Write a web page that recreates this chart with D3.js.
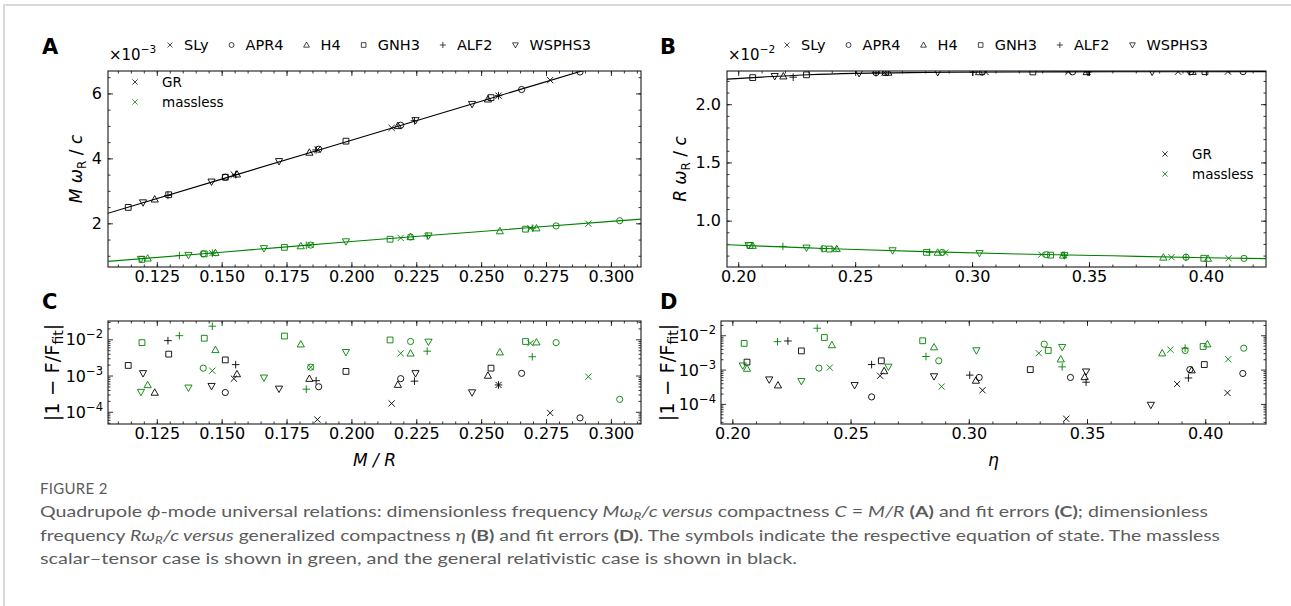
<!DOCTYPE html>
<html>
<head>
<meta charset="utf-8">
<script src="https://cdn.jsdelivr.net/npm/d3@7"></script>
<style>
  body { margin: 0; background: #fff; }
  svg text { font-family: "DejaVu Sans", sans-serif; fill: #000; }
  svg .cap { font-family: "Lato", "Open Sans", sans-serif; fill: #5c5c5c; }
</style>
</head>
<body>
<svg id="fig" width="1291" height="606"></svg>
<script>
// equations of state and their symbols
const eosNames = ["SLy", "APR4", "H4", "GNH3", "ALF2", "WSPHS3"];
const eosSymbols = ["x", "o", "^", "s", "+", "v"];

// GR stars, one inner list per EOS (same order as eosNames)
const grCompact = [
  [0.1547, 0.1869, 0.2155, 0.2567, 0.2766],
  [0.1514, 0.1874, 0.2190, 0.2656, 0.2881],
  [0.1242, 0.1559, 0.1838, 0.2179, 0.2526],
  [0.1140, 0.1296, 0.1514, 0.1979, 0.2538],
  [0.1293, 0.1554, 0.1864, 0.2243, 0.2567],
  [0.1197, 0.1461, 0.1721, 0.2247, 0.2465]
];
const grFreqM = [ // M omega_R / c  (x 1e-3)
  [3.50, 4.27, 4.94, 5.93, 6.41],
  [3.42, 4.28, 5.02, 6.12, 6.66],
  [2.74, 3.51, 4.18, 5.00, 5.82],
  [2.49, 2.88, 3.42, 4.53, 5.87],
  [2.86, 3.50, 4.26, 5.16, 5.93],
  [2.64, 3.28, 3.91, 5.17, 5.67]
];
const grErrC = [
  [8.2e-4, 6.1e-5, 1.7e-4, 5.5e-4, 9.3e-5],
  [3.4e-4, 4.9e-4, 8.2e-4, 1.15e-3, 6.8e-5],
  [3.4e-4, 1.1e-3, 8.2e-4, 5.6e-4, 1.0e-3],
  [1.9e-3, 3.9e-3, 2.7e-3, 1.3e-3, 1.6e-3],
  [9.2e-3, 2.0e-3, 7.2e-4, 7.0e-4, 5.5e-4],
  [1.15e-3, 5.1e-4, 4.3e-4, 1.15e-3, 3.4e-4]
];
const grEta = [
  [0.2625, 0.3058, 0.3412, 0.3881, 0.4094],
  [0.2589, 0.3044, 0.3430, 0.3935, 0.4159],
  [0.2193, 0.2642, 0.3030, 0.3490, 0.3943],
  [0.2062, 0.2292, 0.2630, 0.3260, 0.3996],
  [0.2235, 0.2589, 0.3004, 0.3496, 0.3929],
  [0.2156, 0.2517, 0.2853, 0.3496, 0.3770]
];
const grFreqR = [ // R omega_R / c  (x 1e-2)
  [2.272, 2.276, 2.278, 2.279, 2.280],
  [2.271, 2.276, 2.278, 2.279, 2.280],
  [2.240, 2.272, 2.276, 2.277, 2.279],
  [2.228, 2.252, 2.272, 2.277, 2.279],
  [2.232, 2.270, 2.275, 2.277, 2.279],
  [2.240, 2.266, 2.274, 2.278, 2.278]
];
const grErrD = [
  [6.6e-4, 2.5e-4, 3.7e-5, 3.8e-4, 2.1e-4],
  [1.6e-4, 5.9e-4, 5.9e-4, 1.0e-3, 7.7e-4],
  [3.5e-4, 9.1e-4, 4.8e-4, 6.1e-4, 9.6e-4],
  [1.65e-3, 3.5e-3, 1.8e-3, 1.0e-3, 1.4e-3],
  [6.8e-3, 1.4e-3, 6.9e-4, 4.3e-4, 5.7e-4],
  [5.1e-4, 3.5e-4, 6.3e-4, 8.7e-4, 9.3e-5]
];

// massless scalar-tensor stars
const mlCompact = [
  [0.1464, 0.1843, 0.2190, 0.2690, 0.2913],
  [0.1429, 0.1843, 0.2228, 0.2789, 0.3034],
  [0.1215, 0.1476, 0.1805, 0.2228, 0.2572, 0.2713],
  [0.1193, 0.1433, 0.1742, 0.2149, 0.2671],
  [0.1337, 0.1464, 0.1826, 0.2292, 0.2697],
  [0.1189, 0.1372, 0.1663, 0.1979, 0.2297]
];
const mlFreqM = [
  [1.08, 1.33, 1.55, 1.85, 1.99],
  [1.06, 1.33, 1.58, 1.92, 2.08],
  [0.92, 1.09, 1.30, 1.58, 1.76, 1.85],
  [0.89, 1.06, 1.26, 1.51, 1.82],
  [1.01, 1.08, 1.32, 1.61, 1.85],
  [0.90, 1.02, 1.23, 1.44, 1.62]
];
const mlErrC = [
  [1.36e-3, 1.7e-3, 4.1e-3, 7.8e-3, 9.3e-4],
  [1.6e-3, 1.7e-3, 8.7e-3, 8.1e-3, 2.2e-4],
  [5.5e-4, 5.1e-3, 7.3e-3, 4.1e-3, 4.4e-3, 8.3e-3],
  [8.1e-3, 1.07e-2, 1.23e-2, 9.6e-3, 8.7e-3],
  [1.26e-2, 2.3e-2, 4.2e-4, 4.7e-3, 3.3e-3],
  [3.5e-4, 4.6e-4, 8.7e-4, 4.4e-3, 8.5e-3]
];
const mlEta = [
  [0.2412, 0.2885, 0.3296, 0.3853, 0.4097],
  [0.2366, 0.2873, 0.3319, 0.3915, 0.4163],
  [0.2062, 0.2421, 0.2853, 0.3389, 0.3818, 0.4009],
  [0.2050, 0.2389, 0.2805, 0.3336, 0.3991],
  [0.2191, 0.2359, 0.2819, 0.3395, 0.3915],
  [0.2044, 0.2292, 0.2660, 0.3032, 0.3395]
];
const mlFreqR = [
  [0.757, 0.725, 0.709, 0.686, 0.677],
  [0.759, 0.727, 0.707, 0.686, 0.676],
  [0.785, 0.757, 0.726, 0.702, 0.684, 0.674],
  [0.787, 0.756, 0.728, 0.704, 0.677],
  [0.779, 0.760, 0.728, 0.702, 0.685],
  [0.788, 0.767, 0.744, 0.721, 0.702]
];
const mlErrD = [
  [1.14e-3, 3.2e-4, 3.0e-3, 3.8e-3, 2.0e-3],
  [1.1e-3, 1.8e-3, 5.5e-3, 3.6e-3, 4.2e-3],
  [1.07e-3, 5.2e-3, 4.5e-3, 2.0e-3, 3.0e-3, 5.5e-3],
  [5.8e-3, 8.6e-3, 6.9e-3, 3.6e-3, 4.7e-3],
  [6.5e-3, 1.6e-2, 2.4e-3, 1.2e-3, 4.2e-3],
  [1.3e-3, 4.6e-4, 1.2e-3, 3.6e-3, 4.5e-3]
];

// fit curves
const fitAx  = [0.105, 0.15, 0.20, 0.25, 0.30, 0.315];
const fitAgr = [2.28, 3.36, 4.56, 5.76, 6.96, 7.32];
const fitAml = [0.82, 1.11, 1.44, 1.75, 2.06, 2.15];
const fitBx  = [0.195, 0.21, 0.23, 0.25, 0.28, 0.32, 0.36, 0.40, 0.43];
const fitBgr = [2.215, 2.232, 2.253, 2.265, 2.272, 2.276, 2.278, 2.279, 2.280];
const fitBml = [0.793, 0.781, 0.766, 0.752, 0.734, 0.714, 0.698, 0.682, 0.673];

// ticks
const ticksCx = [0.125, 0.150, 0.175, 0.200, 0.225, 0.250, 0.275, 0.300];
const ticksEta = [0.20, 0.25, 0.30, 0.35, 0.40];
const ticksAy = [2, 4, 6];
const ticksBy = [1.0, 1.5, 2.0];
const ticksErr = [1e-4, 1e-3, 1e-2];

const GREEN = "#008000";
const svg = d3.select("#fig");
svg.append("rect").attr("width", 1291).attr("height", 606).attr("fill", "#fff");
// page card border
svg.append("rect").attr("x", 4).attr("y", 5).attr("width", 1300).attr("height", 700)
  .attr("fill", "none").attr("stroke", "#d9d9d9").attr("stroke-width", 2);

const boxA = {x: 108, y: 71, w: 533, h: 196};
const boxC = {x: 108, y: 321, w: 533, h: 103};
const boxB = {x: 727, y: 71, w: 539, h: 196};
const boxD = {x: 721, y: 321, w: 545, h: 103};

const xA = d3.scaleLinear().domain([0.1062, 0.3116]).range([boxA.x, boxA.x + boxA.w]);
const yA = d3.scaleLinear().domain([0.655, 6.69]).range([boxA.y + boxA.h, boxA.y]);
const xC = d3.scaleLinear().domain([0.1062, 0.3116]).range([boxC.x, boxC.x + boxC.w]);
const yC = d3.scaleLog().domain([4.6e-5, 3.2e-2]).range([boxC.y + boxC.h, boxC.y]);
const xB = d3.scaleLinear().domain([0.1952, 0.4257]).range([boxB.x, boxB.x + boxB.w]);
const yB = d3.scaleLinear().domain([0.602, 2.285]).range([boxB.y + boxB.h, boxB.y]);
const xD = d3.scaleLinear().domain([0.1952, 0.4257]).range([boxD.x, boxD.x + boxD.w]);
const yD = d3.scaleLog().domain([2.6e-5, 2.6e-2]).range([boxD.y + boxD.h, boxD.y]);

function markerPath(t) {
  const r = 3.1;
  switch (t) {
    case "x": return `M${-r},${-r}L${r},${r}M${-r},${r}L${r},${-r}`;
    case "+": return `M${-r - 0.7},0H${r + 0.7}M0,${-r - 0.7}V${r + 0.7}`;
    case "o": return `M${r},0A${r},${r} 0 1,1 ${-r},0A${r},${r} 0 1,1 ${r},0Z`;
    case "s": return `M${-r + 0.2},${-r + 0.2}H${r - 0.2}V${r - 0.2}H${-r + 0.2}Z`;
    case "^": return `M0,${-r - 0.6}L${r + 0.5},${r - 0.4}L${-r - 0.5},${r - 0.4}Z`;
    case "v": return `M0,${r + 0.6}L${r + 0.5},${-r + 0.4}L${-r - 0.5},${-r + 0.4}Z`;
  }
}

function minorRange(lo, hi, step) {
  const out = [];
  for (let v = Math.ceil(lo / step - 1e-9) * step; v <= hi + 1e-12; v += step) out.push(+v.toFixed(6));
  return out;
}

function logMinors(dom) {
  const out = [];
  for (let e = -6; e <= 0; e++) for (let k = 2; k <= 9; k++) {
    const v = k * Math.pow(10, e);
    if (v >= dom[0] && v <= dom[1]) out.push(v);
  }
  return out;
}

function frame(box, x, y, xMaj, xMin, yMaj, yMin, xFmt, yFmt) {
  const g = svg.append("g");
  const B = box.y + box.h, R = box.x + box.w;
  const put = (axis, tr) => {
    const a = g.append("g").attr("transform", tr).call(axis);
    a.select(".domain").remove();
    a.selectAll("line").attr("stroke", "#000").attr("stroke-width", 0.8);
    a.selectAll("text").attr("font-size", 16).attr("font-family", "DejaVu Sans").attr("fill", "#000");
    return a;
  };
  put(d3.axisBottom(x).tickValues(xMaj).tickSize(-5).tickPadding(4).tickFormat(xFmt), `translate(0,${B})`);
  put(d3.axisBottom(x).tickValues(xMin).tickSize(-2.5).tickFormat(""), `translate(0,${B})`);
  put(d3.axisTop(x).tickValues(xMaj).tickSize(-5).tickFormat(""), `translate(0,${box.y})`);
  put(d3.axisTop(x).tickValues(xMin).tickSize(-2.5).tickFormat(""), `translate(0,${box.y})`);
  put(d3.axisLeft(y).tickValues(yMaj).tickSize(-5).tickPadding(6).tickFormat(yFmt || ""), `translate(${box.x},0)`);
  put(d3.axisLeft(y).tickValues(yMin).tickSize(-2.5).tickFormat(""), `translate(${box.x},0)`);
  put(d3.axisRight(y).tickValues(yMaj).tickSize(-5).tickFormat(""), `translate(${R},0)`);
  put(d3.axisRight(y).tickValues(yMin).tickSize(-2.5).tickFormat(""), `translate(${R},0)`);
  g.append("rect").attr("x", box.x).attr("y", box.y).attr("width", box.w).attr("height", box.h)
    .attr("fill", "none").attr("stroke", "#1a1a1a").attr("stroke-width", 1.1);
}

function logLabels(box, y) {
  ticksErr.forEach(t => {
    const e = Math.round(Math.log10(t));
    const tx = svg.append("text").attr("x", box.x - 5).attr("y", y(t) + 6)
      .attr("text-anchor", "end").attr("font-size", 16);
    tx.append("tspan").text("10");
    tx.append("tspan").attr("font-size", 11.5).attr("dy", -7).text("\u2212" + Math.abs(e));
  });
}

function clip(id, box) {
  svg.append("clipPath").attr("id", id).append("rect")
    .attr("x", box.x).attr("y", box.y).attr("width", box.w).attr("height", box.h);
  return svg.append("g").attr("clip-path", `url(#${id})`);
}

function scatter(g, xs, ys, x, y, color) {
  xs.forEach((list, k) => {
    g.selectAll(null).data(list.map((v, i) => [v, ys[k][i]])).join("path")
      .attr("transform", d => `translate(${x(d[0])},${y(d[1])})`)
      .attr("d", markerPath(eosSymbols[k]))
      .attr("fill", "none").attr("stroke", color).attr("stroke-width", 0.9);
  });
}

function fitLine(g, xs, ys, x, y, color) {
  g.append("path").datum(xs.map((v, i) => [v, ys[i]]))
    .attr("d", d3.line().x(d => x(d[0])).y(d => y(d[1])).curve(d3.curveMonotoneX))
    .attr("fill", "none").attr("stroke", color).attr("stroke-width", 1.1);
}

const f3 = d3.format(".3f"), f2 = d3.format(".2f"), f1 = d3.format(".1f");

// ---------- panel A ----------
frame(boxA, xA, yA, ticksCx, minorRange(0.1062, 0.3116, 0.005), ticksAy, minorRange(0.655, 6.69, 0.5), f3, d3.format("d"));
const gA = clip("clipA", boxA);
fitLine(gA, fitAx, fitAgr, xA, yA, "#000");
fitLine(gA, fitAx, fitAml, xA, yA, GREEN);
scatter(gA, grCompact, grFreqM, xA, yA, "#000");
scatter(gA, mlCompact, mlFreqM, xA, yA, GREEN);

// ---------- panel B ----------
frame(boxB, xB, yB, ticksEta, minorRange(0.1952, 0.4257, 0.01), ticksBy, minorRange(0.602, 2.285, 0.1), f2, f1);
const gB = clip("clipB", boxB);
fitLine(gB, fitBx, fitBgr, xB, yB, "#000");
fitLine(gB, fitBx, fitBml, xB, yB, GREEN);
scatter(gB, grEta, grFreqR, xB, yB, "#000");
scatter(gB, mlEta, mlFreqR, xB, yB, GREEN);

// ---------- panel C ----------
frame(boxC, xC, yC, ticksCx, minorRange(0.1062, 0.3116, 0.005), ticksErr, logMinors(yC.domain()), f3, null);
logLabels(boxC, yC);
const gC = clip("clipC", boxC);
scatter(gC, grCompact, grErrC, xC, yC, "#000");
scatter(gC, mlCompact, mlErrC, xC, yC, GREEN);

// ---------- panel D ----------
frame(boxD, xD, yD, ticksEta, minorRange(0.1952, 0.4257, 0.01), ticksErr, logMinors(yD.domain()), f2, null);
logLabels(boxD, yD);
const gD = clip("clipD", boxD);
scatter(gD, grEta, grErrD, xD, yD, "#000");
scatter(gD, mlEta, mlErrD, xD, yD, GREEN);

// ---------- panel letters ----------
[["A", 42, 54], ["B", 660, 54], ["C", 42, 309], ["D", 660, 309]].forEach(([t, x, y]) => {
  svg.append("text").attr("x", x).attr("y", y).attr("font-family", "Liberation Sans, Arial")
    .attr("font-weight", "bold").attr("font-size", 21).text(t);
});

// ---------- offset text and EOS legends ----------
function offsetText(x, e) {
  const t = svg.append("text").attr("x", x).attr("y", 60).attr("font-size", 15);
  t.append("tspan").text("\u00d710");
  t.append("tspan").attr("font-size", 10.5).attr("dy", -7).text("\u2212" + e);
}
offsetText(boxA.x + 1, 3);
offsetText(boxB.x + 1, 2);

function eosLegend(x0) {
  let x = x0;
  eosNames.forEach((n, k) => {
    svg.append("path").attr("transform", `translate(${x},45) scale(0.8)`).attr("d", markerPath(eosSymbols[k]))
      .attr("fill", "none").attr("stroke", "#000").attr("stroke-width", 0.9);
    const t = svg.append("text").attr("x", x + 14).attr("y", 50).attr("font-size", 14.5).text(n);
    x += 14 + t.node().getComputedTextLength() + 23;
  });
}
eosLegend(boxA.x + 62);
eosLegend(boxB.x + 60);

function caseLegend(xm, y0) {
  [["GR", "#000"], ["massless", GREEN]].forEach(([n, c], i) => {
    svg.append("path").attr("transform", `translate(${xm},${y0 + i * 20}) scale(0.85)`).attr("d", markerPath("x"))
      .attr("fill", "none").attr("stroke", c).attr("stroke-width", 0.9);
    svg.append("text").attr("x", xm + 27).attr("y", y0 + i * 20 + 5).attr("font-size", 13.5).text(n);
  });
}
caseLegend(boxA.x + 27, 82);
caseLegend(boxB.x + 438, 154);

// ---------- axis labels ----------
function freqLabel(cx, cy, v) {
  const t = svg.append("text").attr("transform", `translate(${cx},${cy}) rotate(-90)`)
    .attr("text-anchor", "middle").attr("font-size", 17);
  t.append("tspan").attr("font-style", "italic").text(v + " \u03c9");
  t.append("tspan").attr("font-size", 12).attr("dy", 4).text("R");
  t.append("tspan").attr("dy", -4).text(" / ");
  t.append("tspan").attr("font-style", "italic").text("c");
}
freqLabel(82, boxA.y + boxA.h / 2, "M");
freqLabel(686, boxB.y + boxB.h / 2, "R");

function errLabel(cx, cy) {
  const t = svg.append("text").attr("transform", `translate(${cx},${cy}) rotate(-90)`)
    .attr("text-anchor", "middle").attr("font-size", 19.5);
  t.append("tspan").text("|1 \u2212 F/F");
  t.append("tspan").attr("font-size", 14).attr("dy", 4).text("fit");
  t.append("tspan").attr("dy", -4).text("|");
}
errLabel(59, boxC.y + boxC.h / 2);
errLabel(674, boxD.y + boxD.h / 2);

svg.append("text").attr("x", boxC.x + boxC.w / 2).attr("y", 466).attr("text-anchor", "middle")
  .attr("font-size", 17).attr("font-style", "italic").text("M / R");
svg.append("text").attr("x", boxD.x + boxD.w / 2).attr("y", 466).attr("text-anchor", "middle")
  .attr("font-size", 17).attr("font-style", "italic").text("\u03b7");

// ---------- caption ----------
svg.append("text").attr("class", "cap").attr("x", 40).attr("y", 494).attr("font-size", 15)
  .attr("fill", "#6b6b6b").attr("letter-spacing", 0.3).text("FIGURE 2");

const capLines = [
  [["Quadrupole ", ""], ["\u03d5", "i"], ["-mode universal relations: dimensionless frequency ", ""], ["M\u03c9", "i"], ["R", "is"], ["/c versus", "i"],
   [" compactness ", ""], ["C", "i"], [" = ", ""], ["M/R", "i"], [" ", ""], ["(A)", "b"], [" and fit errors ", ""], ["(C)", "b"], ["; dimensionless", ""]],
  [["frequency ", ""], ["R\u03c9", "i"], ["R", "is"], ["/c versus", "i"], [" generalized compactness ", ""], ["\u03b7", "i"], [" ", ""], ["(B)", "b"],
   [" and fit errors ", ""], ["(D)", "b"], [". The symbols indicate the respective equation of state. The massless", ""]],
  [["scalar\u2013tensor case is shown in green, and the general relativistic case is shown in black.", ""]]
];
const capWidths = [1168, 1180, 757];
capLines.forEach((parts, i) => {
  const t = svg.append("text").attr("class", "cap").attr("x", 40).attr("y", 517 + i * 23.5).attr("font-size", 16);
  parts.forEach(([s, st]) => {
    const sp = t.append("tspan").text(s);
    if (st.includes("i")) sp.attr("font-style", "italic");
    if (st === "b") sp.attr("font-weight", "bold");
    if (st === "is") sp.attr("font-size", 11).attr("dy", 3);
  });
  // restore baseline after subscripts
  t.selectAll("tspan").each(function (d, j, nodes) {
    if (j > 0 && nodes[j - 1].getAttribute("dy") === "3") d3.select(this).attr("dy", -3);
  });
  t.attr("textLength", capWidths[i]).attr("lengthAdjust", "spacingAndGlyphs");
});
</script>
</body>
</html>
